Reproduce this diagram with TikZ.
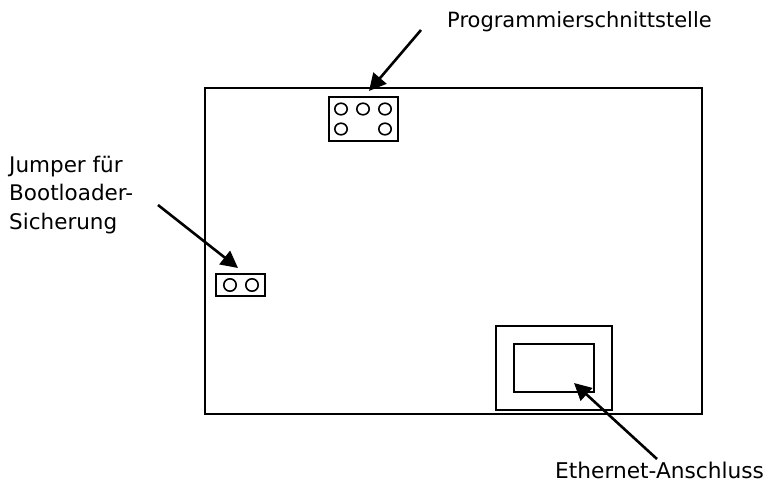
\documentclass[tikz,border=0pt]{standalone}
\usepackage{fontspec}
\setmainfont{DejaVu Sans}
\usepackage{tikz}
\usetikzlibrary{arrows.meta}
\tikzset{
  lab/.style={text=black, font=\fontsize{21}{28.5}\selectfont, inner sep=0pt},
  partBox/.style={draw=black, line width=2pt, minimum width=0pt, inner sep=0pt},
  pin/.style={draw=black, line width=1.6pt},
  pointer/.style={line width=2.6pt, -{Triangle[length=17pt,width=17pt]}}
}

\begin{document}
\begin{tikzpicture}[x=1pt,y=-1pt]
\useasboundingbox (0,0) rectangle (765,482);
% board
\draw[partBox] (205,88) rectangle (702,414);

% programming header
\draw[partBox] (329,97) rectangle (398,141);
\foreach \px/\py in {341/109,363/109,385/109,341/129,385/129}
  \draw[pin] (\px,\py) ellipse (6.2 and 5.8);

% jumper
\draw[partBox] (216,274) rectangle (265,296);
\foreach \px in {230,252}
  \draw[pin] (\px,285) ellipse (6.2 and 6.2);

% ethernet socket
\draw[partBox] (496,326) rectangle (612,410);
\draw[partBox] (514,344) rectangle (594,392);

\node[lab, anchor=west] (prog) at (447,22) {Programmierschnittstelle};
\node[lab, anchor=west, align=left, font=\fontsize{21.5}{28.5}\selectfont] (jumper) at (9,195) {Jumper für\\Bootloader-\\Sicherung};
\node[lab, anchor=west, font=\fontsize{21.7}{28.5}\selectfont] (eth) at (555,470) {Ethernet-Anschluss};

\coordinate (progFrom) at (421,30);
\coordinate (progTo) at (369,91);
\coordinate (jumperFrom) at (158,205);
\coordinate (jumperTo) at (238,268);
\coordinate (ethFrom) at (657,459);
\coordinate (ethTo) at (574,383);
\draw[pointer] (progFrom) -- (progTo);
\draw[pointer] (jumperFrom) -- (jumperTo);
\draw[pointer] (ethFrom) -- (ethTo);
\end{tikzpicture}
\end{document}
